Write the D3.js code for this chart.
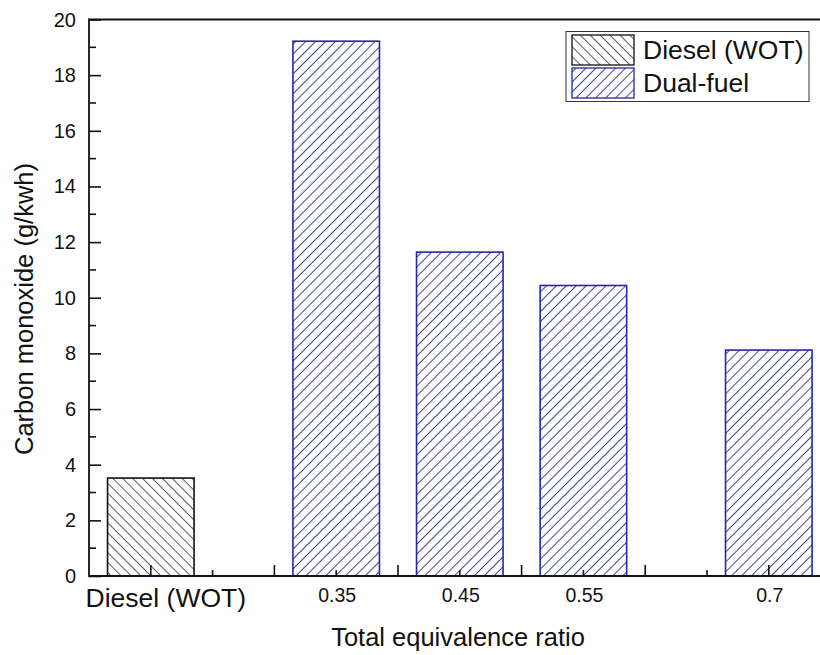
<!DOCTYPE html>
<html>
<head>
<meta charset="utf-8">
<script src="https://cdn.jsdelivr.net/npm/d3@7"></script>
<style>
  html, body { margin: 0; padding: 0; background: #fff; }
  svg { display: block; }
  text { font-family: Arial, "Liberation Sans", sans-serif; fill: #111; }
</style>
</head>
<body>
<svg id="chart" width="820" height="655"></svg>
<script>
// ---- data ----
const categories = ["Diesel (WOT)", "0.35", "0.45", "0.55", "0.7"];
const slots = [0, 3, 5, 7, 10];           // position of each bar on the x axis (axis units)
const series = ["Diesel (WOT)", "Dual-fuel", "Dual-fuel", "Dual-fuel", "Dual-fuel"];
const values = [3.52, 19.22, 11.64, 10.44, 8.12];
const yTicks = [0, 2, 4, 6, 8, 10, 12, 14, 16, 18, 20];
const legendItems = ["Diesel (WOT)", "Dual-fuel"];

const svg = d3.select("#chart");
const W = 820, H = 655;
const m = { left: 89, top: 19.5, bottom: 576 };

const x = d3.scaleLinear().domain([-1, 11]).range([m.left, m.left + 12 * 61.8]);
const y = d3.scaleLinear().domain([0, 20]).range([m.bottom, m.top]);
const bw = x(1.4) - x(0);

// patterns
const defs = svg.append("defs");
const pat = [
  { id: "hatchDiesel", color: "#1a1a1a", rot: -45, sw: 1.4 },
  { id: "hatchDual", color: "#15157a", rot: 45, sw: 1.6 }
];
pat.forEach(p => {
  const pt = defs.append("pattern")
    .attr("id", p.id).attr("patternUnits", "userSpaceOnUse")
    .attr("width", 7).attr("height", 7)
    .attr("patternTransform", `rotate(${p.rot})`);
  pt.append("rect").attr("width", 7).attr("height", 7).attr("fill", "#fff");
  pt.append("line").attr("x1", 0).attr("y1", 0).attr("x2", 0).attr("y2", 7)
    .attr("stroke", p.color).attr("stroke-width", p.sw);
});
const style = {
  "Diesel (WOT)": { fill: "url(#hatchDiesel)", stroke: "#111" },
  "Dual-fuel": { fill: "url(#hatchDual)", stroke: "#2626a6" }
};

// bars
svg.append("g").selectAll("rect").data(values).join("rect")
  .attr("x", (d, i) => x(slots[i]) - bw / 2)
  .attr("y", d => y(d))
  .attr("width", bw)
  .attr("height", d => y(0) - y(d))
  .attr("fill", (d, i) => style[series[i]].fill)
  .attr("stroke", (d, i) => style[series[i]].stroke)
  .attr("stroke-width", 1.6);

// frame top
svg.append("line").attr("x1", m.left).attr("x2", W).attr("y1", m.top).attr("y2", m.top)
  .attr("stroke", "#111").attr("stroke-width", 1.8);

// y axis
const yAxis = d3.axisRight(y).tickValues(yTicks).tickSize(12).tickFormat("");
const gy = svg.append("g").attr("transform", `translate(${m.left},0)`).call(yAxis);
gy.select(".domain").remove();
gy.selectAll(".tick line").attr("stroke", "#111").attr("stroke-width", 1.6);
const yMinor = d3.range(1, 20, 2);
svg.append("g").selectAll("line").data(yMinor).join("line")
  .attr("x1", m.left).attr("x2", m.left + 7)
  .attr("y1", d => y(d)).attr("y2", d => y(d))
  .attr("stroke", "#111").attr("stroke-width", 1.6);
svg.append("g").selectAll("text").data(yTicks).join("text")
  .attr("x", 76).attr("y", d => y(d) + 7)
  .attr("text-anchor", "end").attr("font-size", 20)
  .text(d => d);
svg.append("line").attr("x1", m.left).attr("x2", m.left).attr("y1", m.top - 0.9).attr("y2", m.bottom + 0.9)
  .attr("stroke", "#111").attr("stroke-width", 1.8);

// x axis
const xMajor = d3.range(0, 11, 2), xMinor = d3.range(1, 11, 2);
svg.append("g").selectAll("line").data(xMajor).join("line")
  .attr("x1", d => x(d)).attr("x2", d => x(d))
  .attr("y1", m.bottom).attr("y2", m.bottom - 11)
  .attr("stroke", "#111").attr("stroke-width", 1.6);
svg.append("g").selectAll("line").data(xMinor).join("line")
  .attr("x1", d => x(d)).attr("x2", d => x(d))
  .attr("y1", m.bottom).attr("y2", m.bottom - 6)
  .attr("stroke", "#111").attr("stroke-width", 1.6);
svg.append("line").attr("x1", m.left).attr("x2", W).attr("y1", m.bottom).attr("y2", m.bottom)
  .attr("stroke", "#111").attr("stroke-width", 1.8);

// category labels
svg.append("g").selectAll("text").data(categories).join("text")
  .attr("x", (d, i) => i === 0 ? x(slots[i]) + 15 : x(slots[i]) + 1)
  .attr("y", (d, i) => i === 0 ? 607 : 602)
  .attr("text-anchor", "middle")
  .attr("font-size", (d, i) => i === 0 ? 26.5 : 19.5)
  .text(d => d);

// axis titles
svg.append("text").attr("x", 458).attr("y", 646)
  .attr("text-anchor", "middle").attr("font-size", 25.5)
  .text("Total equivalence ratio");
svg.append("text").attr("transform", "translate(33,309) rotate(-90)")
  .attr("text-anchor", "middle").attr("font-size", 25.5)
  .text("Carbon monoxide (g/kwh)");

// legend
const lg = svg.append("g");
lg.append("rect").attr("x", 566).attr("y", 31.5).attr("width", 243).attr("height", 70)
  .attr("fill", "#fff").attr("stroke", "#333").attr("stroke-width", 1);
legendItems.forEach((s, i) => {
  const yy = 35 + i * 33;
  lg.append("rect").attr("x", 572).attr("y", yy).attr("width", 62).attr("height", 30)
    .attr("fill", style[s].fill).attr("stroke", style[s].stroke).attr("stroke-width", 1.3);
  lg.append("text").attr("x", 643).attr("y", yy + 23.5).attr("font-size", 26.5).text(s);
});
</script>
</body>
</html>
